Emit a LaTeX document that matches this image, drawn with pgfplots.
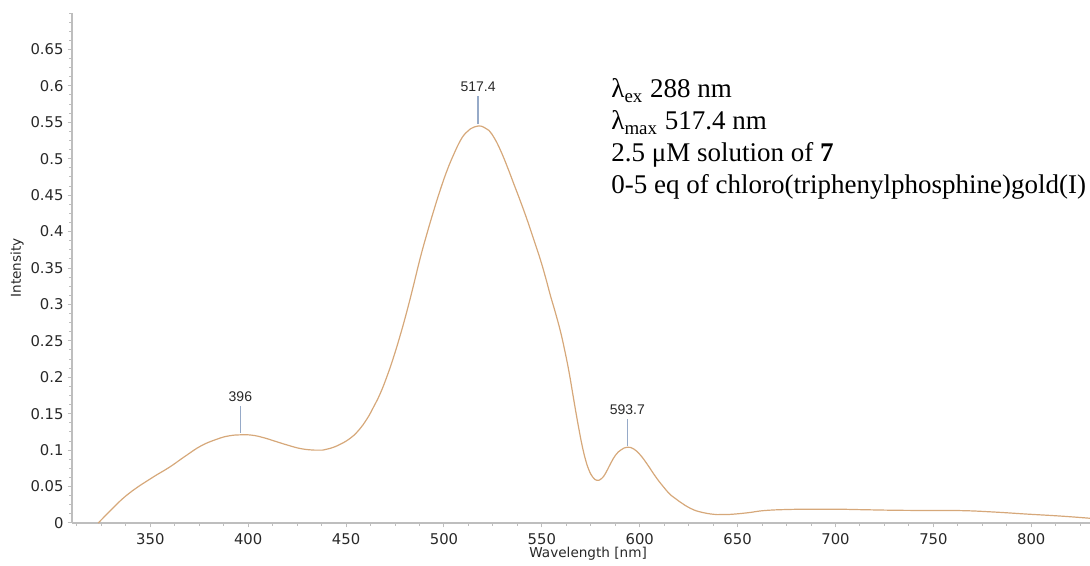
\documentclass[border=0pt]{standalone}
\usepackage{fontspec}
\setmainfont{DejaVu Sans}
\newfontfamily\seriffont{Liberation Serif}
\newfontfamily\arialfont{Liberation Sans}
\usepackage{pgfplots}
\pgfplotsset{compat=1.18}
\definecolor{curvecol}{RGB}{214,168,122}
\definecolor{axisgray}{RGB}{190,190,190}
\definecolor{stemcol}{RGB}{150,170,200}
\definecolor{labcol}{RGB}{40,40,40}
\begin{document}
\begin{tikzpicture}
\begin{axis}[
  scale only axis,
  width=509pt, height=255pt,
  xmin=310, xmax=830, ymin=0, ymax=0.70,
  axis lines=left,
  axis line style={-, draw=axisgray, line width=0.6pt},
  tick align=outside,
  major tick length=2.2pt, minor tick length=1.4pt,
  every tick/.style={draw=axisgray, line width=0.5pt},
  xtick={350,400,...,800},
  minor xtick={312.5,325,...,830},
  ytick={0,0.05,0.1,0.15,0.2,0.25,0.3,0.35,0.4,0.45,0.5,0.55,0.6,0.65},
  minor ytick={0.0125,0.025,...,0.7},
  yticklabel style={/pgf/number format/fixed, /pgf/number format/precision=2, xshift=1.5pt},
  xticklabel style={yshift=0.5pt},
  /pgf/number format/assume math mode=true,
  tick label style={font=\fontsize{7.4}{9}\selectfont, text=labcol},
  xlabel={Wavelength [nm]},
  ylabel={Intensity},
  label style={font=\fontsize{6.8}{8}\selectfont, text=labcol},
  xlabel style={at={(axis description cs:0.507,-0.060)}, anchor=center},
  ylabel style={at={(axis description cs:-0.054,0.5)}, anchor=center, rotate=0},
  clip=false,
]
\addplot[curvecol, line width=0.6pt, smooth, tension=0.75] table {
x y
323.4 0
330 0.018
337 0.036
345 0.052
352 0.064
360 0.077
368 0.092
376 0.106
384 0.115
390 0.1195
396 0.121
402 0.1205
408 0.117
414 0.112
420 0.107
427 0.102
434 0.1
438 0.1
442 0.1025
447 0.108
452.2 0.1165
456.5 0.1275
460.7 0.143
464 0.159
467.5 0.178
471 0.202
474.3 0.228
477.8 0.259
481.2 0.292
484.6 0.328
488 0.365
491.4 0.398
494.8 0.429
498.2 0.458
501.6 0.484
505 0.506
508.4 0.525
511 0.535
513.5 0.541
517.6 0.545
520.5 0.543
522.9 0.539
525.8 0.528
528.8 0.512
532.2 0.49
535.6 0.466
539 0.442
542.5 0.416
546 0.388
549.3 0.361
552 0.336
554.4 0.312
557 0.288
559.5 0.263
561.6 0.238
563.7 0.21
565.5 0.182
567.2 0.155
569 0.128
570.6 0.106
572.3 0.087
574 0.073
576 0.063
578.2 0.0585
580.5 0.061
582.5 0.068
585 0.081
587.6 0.093
590.5 0.1005
593.7 0.104
597 0.1015
600.4 0.093
604 0.08
608 0.064
612 0.05
616 0.038
620 0.03
626 0.02
632 0.0145
639.7 0.0115
646 0.0118
655 0.014
663.4 0.017
675 0.0185
690 0.019
700 0.019
715 0.0182
730 0.0175
745 0.0172
764 0.017
780 0.0152
798 0.0122
815 0.0095
830 0.0065
};
% peak annotations
\draw[stemcol, line width=0.6pt] (axis cs:396,0.160) -- (axis cs:396,0.123);
\node[font=\arialfont\fontsize{7}{8}\selectfont, text=labcol] at (axis cs:396,0.174) {396};
\draw[stemcol, line width=0.6pt] (axis cs:517.4,0.586) -- (axis cs:517.4,0.548);
\node[font=\arialfont\fontsize{7}{8}\selectfont, text=labcol] at (axis cs:517.4,0.599) {517.4};
\draw[stemcol, line width=0.6pt] (axis cs:593.7,0.143) -- (axis cs:593.7,0.106);
\node[font=\arialfont\fontsize{7}{8}\selectfont, text=labcol] at (axis cs:593.7,0.156) {593.7};
\end{axis}
\begin{scope}[every node/.style={anchor=base west, inner sep=0pt, font=\seriffont\fontsize{13.5}{16}\selectfont}]
\node at (269.5pt,212.5pt) {λ\textsubscript{ex} 288 nm};
\node at (269.5pt,196.5pt) {λ\textsubscript{max} 517.4 nm};
\node at (269.5pt,180.5pt) {2.5 μM solution of \textbf{7}};
\node at (269.5pt,164.5pt) {0-5 eq of chloro(triphenylphosphine)gold(I)};
\end{scope}
\pgfresetboundingbox
\useasboundingbox (-36pt,-21.5pt) rectangle (509pt,261.5pt);
\end{tikzpicture}
\end{document}
